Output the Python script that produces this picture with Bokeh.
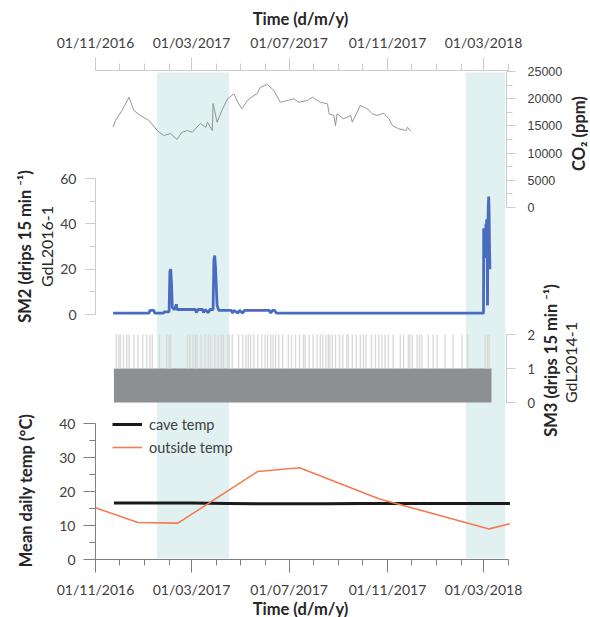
import math
import pandas as pd
from bokeh.plotting import figure
from bokeh.models import (Range1d, DatetimeAxis, LinearAxis, FixedTicker,
                          DatetimeTickFormatter, Label, Legend, LegendItem, Grid)
from bokeh.embed import file_html
from bokeh.resources import INLINE

# ---------------- data ----------------
date_ticks = ["2016-11-01", "2017-03-01", "2017-07-01", "2017-11-01", "2018-03-01"]
month_ticks = ["2016-12-01", "2017-01-01", "2017-02-01", "2017-04-01", "2017-05-01",
               "2017-06-01", "2017-08-01", "2017-09-01", "2017-10-01", "2017-12-01",
               "2018-01-01", "2018-02-01", "2018-04-01"]
axis_span = ["2016-11-01", "2018-04-01"]

wet_start = ["2017-01-17", "2018-02-07"]
wet_end = ["2017-04-17", "2018-03-28"]

co2_dates = ["2016-11-23", "2016-11-26", "2016-12-04", "2016-12-13", "2016-12-19", "2016-12-27",
             "2017-01-07", "2017-01-17", "2017-01-25", "2017-02-03", "2017-02-11", "2017-02-17",
             "2017-02-24", "2017-03-02", "2017-03-12", "2017-03-19", "2017-03-21", "2017-03-27",
             "2017-03-28", "2017-04-02", "2017-04-08", "2017-04-15", "2017-04-23", "2017-04-29",
             "2017-05-03", "2017-05-10", "2017-05-18", "2017-05-22", "2017-05-26", "2017-06-04",
             "2017-06-12", "2017-06-20", "2017-06-29", "2017-07-07", "2017-07-13", "2017-07-24",
             "2017-07-30", "2017-08-09", "2017-08-18", "2017-08-20", "2017-08-26", "2017-08-28",
             "2017-08-30", "2017-09-07", "2017-09-16", "2017-09-18", "2017-09-28", "2017-10-07",
             "2017-10-13", "2017-10-19", "2017-10-27", "2017-11-03", "2017-11-07", "2017-11-15",
             "2017-11-24", "2017-11-26", "2017-11-30"]
co2_ppm = [14760, 15990, 17830, 20270, 17830, 16910,
           15990, 14150, 13230, 13600, 12500, 13840,
           14150, 13840, 15440, 14760, 15680, 14150,
           19120, 15680, 17830, 19980, 20900, 19060,
           18140, 19670, 20590, 20900, 22110, 22610,
           21500, 19350, 19670, 19980, 19350, 19670,
           20270, 19350, 19060, 17220, 16910, 15070,
           17220, 16300, 16910, 15680, 18750, 18140,
           17220, 16910, 17330, 16300, 15070, 14470,
           14150, 14760, 14020]

sm2_dates = ["2016-11-23", "2017-01-07", "2017-01-08", "2017-01-13", "2017-01-14", "2017-01-25",
             "2017-01-26", "2017-02-01", "2017-02-02", "2017-02-03", "2017-02-04", "2017-02-05",
             "2017-02-08", "2017-02-10", "2017-02-11", "2017-03-06", "2017-03-07", "2017-03-09",
             "2017-03-15", "2017-03-16", "2017-03-18", "2017-03-22", "2017-03-24", "2017-03-28",
             "2017-03-29", "2017-03-30", "2017-03-31", "2017-04-02", "2017-04-04", "2017-04-20",
             "2017-04-21", "2017-04-23", "2017-04-28", "2017-04-30", "2017-05-04", "2017-05-06",
             "2017-06-06", "2017-06-08", "2017-06-10", "2017-06-13", "2017-06-15", "2018-03-01",
             "2018-03-01T06:00", "2018-03-02", "2018-03-02T12:00", "2018-03-03", "2018-03-03T12:00",
             "2018-03-04", "2018-03-04T12:00", "2018-03-05", "2018-03-05T12:00", "2018-03-06",
             "2018-03-06T12:00", "2018-03-07", "2018-03-07T12:00", "2018-03-08", "2018-03-08T12:00",
             "2018-03-09"]
sm2_drips = [0.6, 0.6, 1.8, 1.8, 0.6, 0.6,
             1.2, 1.2, 19, 20, 14, 3,
             2.2, 4.5, 2.2, 2.2, 0.8, 2.2,
             2.2, 0.8, 2.2, 0.8, 2.2, 2.2,
             24, 26, 21, 4, 1.8, 1.8,
             0.6, 1.8, 0.6, 1.8, 0.6, 1.8,
             1.8, 0.6, 1.8, 1.8, 0.6, 0.6,
             38, 30, 25, 35, 28,
             40, 32, 42, 30, 4,
             40, 48, 52, 45, 30,
             20]

sm3_start = ["2016-11-24"]
sm3_end = ["2018-03-11"]
sm3_level = [1]
sm3_peak_dates = ["2016-11-27", "2016-11-30", "2016-12-02", "2016-12-06", "2016-12-10", "2016-12-13",
                  "2016-12-19", "2016-12-24", "2016-12-30", "2017-01-04", "2017-01-08", "2017-01-11",
                  "2017-01-20", "2017-01-29", "2017-02-01", "2017-02-03", "2017-02-24", "2017-02-27",
                  "2017-03-03", "2017-03-06", "2017-03-08", "2017-03-13", "2017-03-18", "2017-03-22",
                  "2017-03-25", "2017-03-30", "2017-04-03", "2017-04-07", "2017-04-10", "2017-04-15",
                  "2017-04-17", "2017-04-21", "2017-04-29", "2017-05-04", "2017-05-08", "2017-05-11",
                  "2017-05-14", "2017-05-18", "2017-05-23", "2017-05-28", "2017-06-01", "2017-06-04",
                  "2017-06-08", "2017-06-11", "2017-06-14", "2017-06-18", "2017-06-23", "2017-06-30",
                  "2017-07-04", "2017-07-09", "2017-07-14", "2017-07-19", "2017-07-21", "2017-07-26",
                  "2017-07-31", "2017-08-05", "2017-08-09", "2017-08-12", "2017-08-16", "2017-08-19",
                  "2017-08-21", "2017-08-24", "2017-08-28", "2017-09-02", "2017-09-06", "2017-09-11",
                  "2017-09-13", "2017-09-18", "2017-09-23", "2017-09-28", "2017-10-02", "2017-10-05",
                  "2017-10-12", "2017-10-17", "2017-10-21", "2017-10-25", "2017-10-29", "2017-11-02",
                  "2017-11-08", "2017-11-17", "2017-11-21", "2017-11-27", "2017-11-29", "2017-12-02",
                  "2017-12-08", "2017-12-11", "2017-12-14", "2017-12-22", "2017-12-28", "2018-01-02",
                  "2018-01-12", "2018-01-22", "2018-02-02", "2018-02-09", "2018-03-03", "2018-03-06",
                  "2018-03-08"]
sm3_peak_level = 2

cave_dates = ["2016-11-24", "2017-03-01", "2017-04-15", "2017-06-01", "2017-08-15",
              "2017-10-01", "2018-01-01", "2018-04-03"]
cave_temp = [16.6, 16.6, 16.5, 16.4, 16.4, 16.5, 16.5, 16.5]

out_dates = ["2016-11-01", "2016-12-24", "2017-02-12", "2017-05-23", "2017-07-14",
             "2017-10-22", "2018-03-08", "2018-04-03"]
out_temp = [15.2, 10.9, 10.7, 25.9, 27.0, 17.8, 9.0, 10.5]

temp_ticks = [0, 10, 20, 30, 40]
temp_minor = [5, 15, 25, 35]
sm2_ticks = [0, 20, 40, 60]
sm2_minor = [10, 30, 50]
co2_ticks = [0, 5000, 10000, 15000, 20000, 25000]
co2_minor = [2500, 7500, 12500, 17500, 22500]
sm3_ticks = [0, 1, 2]


def to_dt(values):
    return pd.to_datetime(values, format="ISO8601")


# ---------------- layout constants ----------------
W, H = 590, 617
X_ORIGIN_PX = 95.0
ORIGIN = pd.Timestamp("2016-11-01")
PX_PER_DAY = 0.8


def px_to_date(px):
    return ORIGIN + pd.Timedelta(days=(px - X_ORIGIN_PX) / PX_PER_DAY)


def ms(d):
    return pd.Timestamp(d).value / 1e6


def y_range(v0, y0, v1, y1):
    per_px = (v1 - v0) / (y0 - y1)
    return Range1d(start=v0 - (H - y0) * per_px, end=v0 + y0 * per_px)


def temp_at(px):
    return (559 - px) / 3.4


FONT = "Lato"
DARK_AX = "#7f7f7f"
LIGHT_AX = "#cccccc"
LABEL_COL = "#404040"

p = figure(width=W, height=H, output_backend="svg", toolbar_location=None,
           x_axis_location=None, y_axis_location=None, min_border=0,
           x_range=Range1d(px_to_date(0), px_to_date(W)),
           y_range=y_range(0, 559, 40, 423))
p.outline_line_color = None
p.extra_y_ranges = {
    "sm2": y_range(0, 314, 60, 178),
    "co2": y_range(0, 207, 25000, 71),
    "sm3": y_range(0, 402, 2, 334),
}

# wet-season bands
p.quad(left=to_dt(wet_start), right=to_dt(wet_end),
       bottom=temp_at(558), top=temp_at(72), fill_color="#e1f0f0", line_color=None)

# CO2
p.line(to_dt(co2_dates), co2_ppm, y_range_name="co2", line_color="#8a8a8a", line_width=0.9)

# SM2
p.line(to_dt(sm2_dates), sm2_drips, y_range_name="sm2", line_color="#4a6cc0",
       line_width=2.8)

# SM3
p.quad(left=to_dt(sm3_start), right=to_dt(sm3_end), bottom=0, top=sm3_level,
       y_range_name="sm3", fill_color="#8e8f92", line_color=None)
pk = to_dt(sm3_peak_dates)
p.segment(x0=pk, x1=pk, y0=sm3_level[0], y1=sm3_peak_level, y_range_name="sm3",
          line_color="#d8d8d8", line_width=1.3)

# temperatures
cave_r = p.line(to_dt(cave_dates), cave_temp, line_color="#1a1a1a", line_width=3)
out_r = p.line(to_dt(out_dates), out_temp, line_color="#f47a50", line_width=1.6)

# ---------------- axes ----------------
fmt = DatetimeTickFormatter(microseconds="%d/%m/%Y", milliseconds="%d/%m/%Y", seconds="%d/%m/%Y",
                            minsec="%d/%m/%Y", minutes="%d/%m/%Y", hourmin="%d/%m/%Y",
                            hours="%d/%m/%Y", days="%d/%m/%Y", months="%d/%m/%Y",
                            years="%d/%m/%Y")


def style(ax, color, size="14px", font=FONT, out=12, minor_out=6, standoff=8):
    ax.axis_line_color = color
    ax.major_tick_line_color = color
    ax.minor_tick_line_color = color
    ax.major_tick_in = 0
    ax.minor_tick_in = 0
    ax.major_tick_out = out
    ax.minor_tick_out = minor_out
    ax.major_label_text_font = font
    ax.major_label_text_font_size = size
    ax.major_label_text_color = LABEL_COL
    ax.major_label_standoff = standoff


date_major = [ms(d) for d in date_ticks]
date_minor = [ms(d) for d in month_ticks]
bounds_x = (ms(axis_span[0]), ms(axis_span[1]))

bottom_ax = DatetimeAxis(ticker=FixedTicker(ticks=date_major, minor_ticks=date_minor),
                         formatter=fmt, fixed_location=0, bounds=bounds_x)
style(bottom_ax, DARK_AX, out=13, minor_out=6, standoff=8)
p.add_layout(bottom_ax, "below")

top_ax = DatetimeAxis(ticker=FixedTicker(ticks=date_major, minor_ticks=date_minor),
                      formatter=fmt, fixed_location=temp_at(70), bounds=bounds_x)
style(top_ax, LIGHT_AX, out=13, minor_out=7, standoff=7)
p.add_layout(top_ax, "above")

left_loc = ms(ORIGIN)
temp_ax = LinearAxis(ticker=FixedTicker(ticks=temp_ticks, minor_ticks=temp_minor),
                     fixed_location=left_loc, bounds=(0, 40))
style(temp_ax, DARK_AX, out=12, minor_out=6, standoff=8)
p.add_layout(temp_ax, "left")

sm2_ax = LinearAxis(ticker=FixedTicker(ticks=sm2_ticks, minor_ticks=sm2_minor),
                    y_range_name="sm2", fixed_location=left_loc, bounds=(0, 60))
style(sm2_ax, LIGHT_AX, out=10, minor_out=6, standoff=9)
p.add_layout(sm2_ax, "left")

right_loc = ms(px_to_date(506))
co2_ax = LinearAxis(ticker=FixedTicker(ticks=co2_ticks, minor_ticks=co2_minor),
                    y_range_name="co2", fixed_location=right_loc, bounds=(0, 25000))
style(co2_ax, LIGHT_AX, size="12.5px", font="Liberation Sans", out=9, minor_out=6, standoff=12)
p.add_layout(co2_ax, "right")

sm3_ax = LinearAxis(ticker=FixedTicker(ticks=sm3_ticks, minor_ticks=[]),
                    y_range_name="sm3", fixed_location=right_loc, bounds=(0, 2))
style(sm3_ax, LIGHT_AX, size="13px", out=9, minor_out=0, standoff=12)
p.add_layout(sm3_ax, "right")

# no grid lines at all
for r in list(p.renderers) + list(p.center):
    if isinstance(r, Grid):
        r.visible = False


# ---------------- titles ----------------
def title(text, x, y, angle=0.0, bold=True, size="16.5px"):
    p.add_layout(Label(x=x, y=H - y, x_units="screen", y_units="screen", text=text,
                       angle=angle, text_align="center", text_baseline="middle",
                       text_font=FONT, text_font_size=size,
                       text_font_style="bold" if bold else "normal",
                       text_color="#262626"))


title("Time (d/m/y)", 300, 18)
title("Time (d/m/y)", 300, 608)
title("Mean daily temp (°C)", 25, 490, angle=math.pi / 2)
title("SM2 (drips 15 min ⁻¹)", 24, 246, angle=math.pi / 2)
title("GdL2016-1", 46, 246, angle=math.pi / 2, bold=False, size="16px")
title("CO₂ (ppm)", 578, 133, angle=math.pi / 2)
title("SM3 (drips 15 min ⁻¹)", 550, 360, angle=math.pi / 2)
title("GdL2014-1", 570, 362, angle=math.pi / 2, bold=False, size="16px")

# ---------------- legend ----------------
legend = Legend(items=[LegendItem(label="cave temp", renderers=[cave_r]),
                       LegendItem(label="outside temp", renderers=[out_r])],
                location=(112, H - 457), orientation="vertical",
                glyph_width=30, glyph_height=20, label_height=20, spacing=3,
                padding=0, margin=0, label_standoff=7,
                label_text_font=FONT, label_text_font_size="14.5px",
                label_text_color=LABEL_COL,
                border_line_color=None, background_fill_alpha=0)
p.add_layout(legend, "center")

open("out.html", "w").write(file_html(p, INLINE))
